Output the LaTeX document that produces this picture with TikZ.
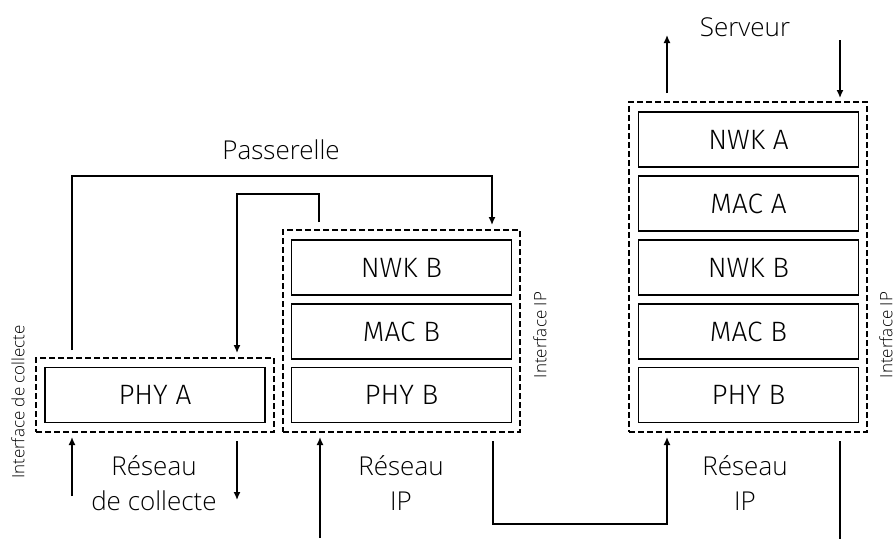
\documentclass[tikz,border=0pt]{standalone}
\usepackage{fontspec}
\IfFontExistsTF{Open Sans Light}{\setmainfont{Open Sans Light}}{\setmainfont{Open Sans}}
\IfFontExistsTF{Fira Sans Light}{\newfontfamily\boxfont{Fira Sans Light}}{\newfontfamily\boxfont{Fira Sans}}
\usetikzlibrary{arrows.meta}
\tikzset{
  x=1pt, y=-1pt,
  layer/.style={draw, line width=1.4pt, minimum width=220pt, minimum height=55pt, inner sep=0pt, font=\boxfont\fontsize{28}{32}\selectfont},
  dashbox/.style={draw, line width=1.4pt, dash pattern=on 6pt off 3pt, minimum width=238pt, inner sep=0pt},
  conn/.style={line width=1.4pt},
  arr/.style={conn, -{Latex[length=8pt,width=7pt]}},
  lbl/.style={font=\fontsize{26}{35}\selectfont, align=center, inner sep=0pt},
  side/.style={font=\fontsize{17}{19}\selectfont, rotate=90, inner sep=0pt}
}
\begin{document}
\begin{tikzpicture}
\useasboundingbox (0,0) rectangle (895,539);
% dashed groups
\node[dashbox, minimum height=74pt] (gA) at (155,395) {};
\node[dashbox, minimum height=202pt, minimum width=237pt] (gB) at (401.5,331) {};
\node[dashbox, minimum height=330pt] (gC) at (748,267) {};
% layers
\node[layer] (phyA) at (155,395) {PHY A};
\node[layer] (nwkB1) at (401.5,267.5) {NWK B};
\node[layer] (macB1) at (401.5,331.5) {MAC B};
\node[layer] (phyB1) at (401.5,395) {PHY B};
\node[layer] (nwkA2) at (748.5,139.5) {NWK A};
\node[layer] (macA2) at (748.5,203.5) {MAC A};
\node[layer] (nwkB2) at (748.5,267.5) {NWK B};
\node[layer] (macB2) at (748.5,331.5) {MAC B};
\node[layer] (phyB2) at (748.5,395) {PHY B};
% labels
\node[lbl] (serv) at (745,27) {Serveur};
\node[lbl] (pass) at (281,150) {Passerelle};
\node[lbl] (resA) at (154,483) {Réseau\\de collecte};
\node[lbl] (resB) at (401,483) {Réseau\\IP};
\node[lbl] (resC) at (745,483) {Réseau\\IP};
\node[side] (intA) at (18,402) {Interface de collecte};
\node[side] (intB) at (540,335) {Interface IP};
\node[side] (intC) at (886,335) {Interface IP};
% coordinates
\coordinate (a1) at (72,350); \coordinate (t1) at (280,176); \coordinate (a2) at (492,225);
\coordinate (b1) at (319,222); \coordinate (t2) at (280,194); \coordinate (b2) at (237,353);
\coordinate (c1) at (72,496); \coordinate (c2) at (72,437);
\coordinate (d1) at (237,441); \coordinate (d2) at (237,500);
\coordinate (e1) at (320,538); \coordinate (e2) at (320,437);
\coordinate (f1) at (493,441); \coordinate (t3) at (580,524); \coordinate (f2) at (667,437);
\coordinate (g1) at (840,441); \coordinate (g2) at (840,539);
\coordinate (h1) at (667,93); \coordinate (h2) at (667,35);
\coordinate (k1) at (840,40); \coordinate (k2) at (840,98);
% connectors
\draw[arr] (a1) |- (t1) -| (a2);
\draw[arr] (b1) |- (t2) -| (b2);
\draw[arr] (c1) -- (c2);
\draw[arr] (d1) -- (d2);
\draw[arr] (e1) -- (e2);
\draw[arr] (f1) |- (t3) -| (f2);
\draw[conn] (g1) -- (g2);
\draw[arr] (h1) -- (h2);
\draw[arr] (k1) -- (k2);
\end{tikzpicture}
\end{document}
